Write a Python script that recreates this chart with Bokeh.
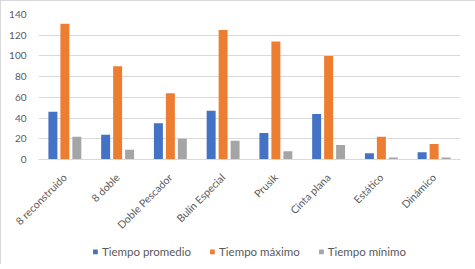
from bokeh.plotting import figure
from bokeh.models import ColumnDataSource, Legend, LegendItem, Range1d, FactorRange
from bokeh.layouts import column
from bokeh.transform import dodge
from bokeh.embed import file_html
from bokeh.resources import INLINE
import math

categories = ["8 reconstruido", "8 doble", "Doble Pescador", "Bulín Especial",
              "Prusik", "Cinta plana", "Estático", "Dinámico"]
promedio = [46, 24, 35, 47, 25.5, 44, 6, 7]
maximo = [131, 90, 64, 125, 114, 100, 22, 15]
minimo = [22, 9.5, 20, 18, 8, 14, 2, 2]
series_names = ["Tiempo promedio", "Tiempo máximo", "Tiempo mínimo"]
colors = ["#4472C4", "#ED7D31", "#A5A5A5"]
yticks = [0, 20, 40, 60, 80, 100, 120, 140]

src = ColumnDataSource(dict(cat=categories, a=promedio, b=maximo, c=minimo))

p = figure(width=474, height=237, x_range=FactorRange(*categories),
           y_range=Range1d(0, 140), output_backend="svg", toolbar_location=None,
           min_border_left=37, min_border_right=15, min_border_top=13,
           min_border_bottom=79)

FONT = "Lato"
TXT = "#595959"
offs = [-0.227, 0.0, 0.227]
for key, off, col in zip(["a", "b", "c"], offs, colors):
    p.vbar(x=dodge("cat", off, range=p.x_range), top=key, width=0.17,
           source=src, fill_color=col, line_color=None)

p.x_range.range_padding = 0
p.outline_line_color = None
p.background_fill_color = "white"
p.border_fill_color = "white"

p.ygrid.grid_line_color = "#D9D9D9"
p.ygrid.grid_line_width = 1
p.xgrid.grid_line_color = None
p.yaxis.ticker = yticks
p.yaxis.axis_line_color = None
p.yaxis.major_tick_line_color = None
p.yaxis.minor_tick_line_color = None
p.yaxis.major_label_text_font = FONT
p.yaxis.major_label_text_font_size = "10px"
p.yaxis.major_label_text_color = TXT
p.yaxis.major_label_standoff = 6

p.xaxis.axis_line_color = "#D9D9D9"
p.xaxis.major_tick_line_color = None
p.xaxis.minor_tick_line_color = None
p.xaxis.major_label_text_font = FONT
p.xaxis.major_label_text_font_size = "10.5px"
p.xaxis.major_label_text_color = TXT
p.xaxis.major_label_orientation = math.pi / 4
p.xaxis.major_label_standoff = 10

# legend figure
lf = figure(width=474, height=26, output_backend="svg", toolbar_location=None,
            x_range=Range1d(0, 1), y_range=Range1d(0, 1),
            min_border=0, outline_line_color=None)
lf.axis.visible = False
lf.grid.visible = False
lrs = []
for col in colors:
    lrs.append(lf.vbar(x=[-5], top=[-5], bottom=[-6], width=0.1, fill_color=col, line_color=None))
legend = Legend(items=[LegendItem(label=n, renderers=[r]) for n, r in zip(series_names, lrs)],
                orientation="horizontal", location="center",
                label_text_font=FONT, label_text_font_size="11.5px", label_text_color=TXT,
                glyph_width=6, glyph_height=6, spacing=18, label_standoff=4,
                border_line_color=None, background_fill_alpha=0, padding=2, margin=0)
lf.add_layout(legend, "center")

layout = column(p, lf, spacing=0)
layout.styles = {"border-top": "1px solid #D9D9D9", "border-left": "1px solid #D9D9D9"}
open("out.html", "w").write(file_html(layout, INLINE))
